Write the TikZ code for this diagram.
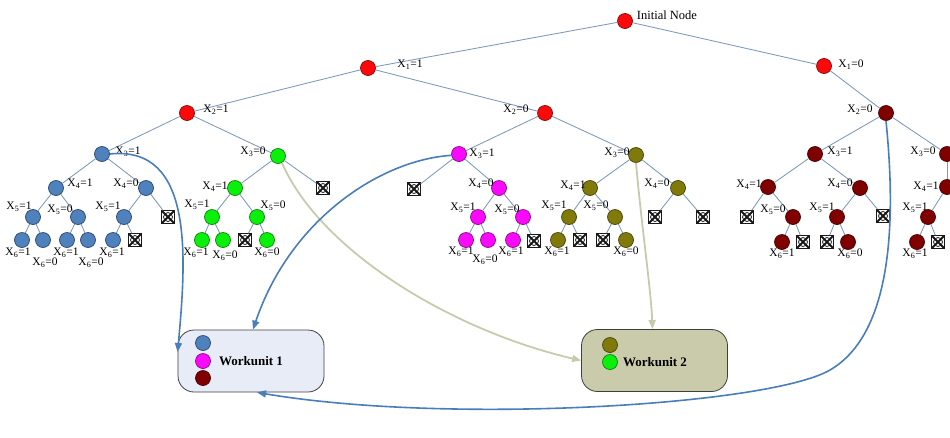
\documentclass[tikz,border=0pt]{standalone}
\usepackage{fontspec}
\setmainfont{Liberation Serif}
\usetikzlibrary{arrows.meta}
\definecolor{cred}{RGB}{250,10,10}
\definecolor{cblue}{RGB}{79,129,189}
\definecolor{cgreen}{RGB}{10,240,10}
\definecolor{cmag}{RGB}{250,10,250}
\definecolor{colive}{RGB}{128,122,10}
\definecolor{cdred}{RGB}{128,0,0}
\definecolor{edgec}{RGB}{125,152,185}
\definecolor{barr}{RGB}{74,126,187}
\definecolor{karr}{RGB}{200,202,172}
\definecolor{wfa}{RGB}{232,236,246}
\definecolor{wfb}{RGB}{201,203,170}
\newcommand\xlab[2]{X\textsubscript{#1}=#2}
\begin{document}
\begin{tikzpicture}[x=1pt,y=-1pt,
  tn/.style={circle,minimum size=15pt,inner sep=0pt,fill=#1,draw=#1!55!black,line width=0.7pt},
  xn/.style={rectangle,minimum size=12.5pt,inner sep=0pt,draw=black!90,line width=1pt,
    path picture={\draw[line width=1.9pt,black!90] (path picture bounding box.south west) -- (path picture bounding box.north east)
      (path picture bounding box.north west) -- (path picture bounding box.south east);
      \draw[line width=0.8pt,black!90] (path picture bounding box.center) circle (4.5pt);}},
  ed/.style={draw=edgec,line width=0.85pt},
  lb/.style={inner sep=0pt,font=\fontsize{11.5}{12}\selectfont},
  wu/.style={draw=black!75,line width=0.8pt,rounded corners=16pt,minimum width=146pt,minimum height=62pt},
  barrow/.style={draw=barr,line width=1.6pt,-{Triangle[length=9pt,width=7pt]}},
  karrow/.style={draw=karr,line width=1.8pt,-{Triangle[length=9pt,width=7pt]}}]
\useasboundingbox (0,0) rectangle (950,437);
% level 0-2
\node[tn=cred] (r) at (625,21) {};
\node[tn=cred] (a) at (368,68) {};
\node[tn=cred] (b) at (824,66) {};
\node[tn=cred] (aa) at (187,113) {};
\node[tn=cred] (ab) at (545,113) {};
\node[tn=cdred] (bb) at (886,113) {};
% level 3
\node[tn=cblue] (c1) at (102,154) {};
\node[tn=cgreen] (c2) at (278,156) {};
\node[tn=cmag] (c3) at (459,154) {};
\node[tn=colive] (c4) at (636,155) {};
\node[tn=cdred] (c5) at (815,154) {};
\node[tn=cdred] (c6) at (947,154) {};
% level 4
\node[tn=cblue] (d1) at (56,188) {};
\node[tn=cblue] (d2) at (146,188) {};
\node[tn=cgreen] (d3) at (235,188) {};
\node[xn] (x1) at (323,188) {};
\node[xn] (x2) at (414,189) {};
\node[tn=cmag] (d4) at (499,188) {};
\node[tn=colive] (d5) at (590,188) {};
\node[tn=colive] (d6) at (678,188) {};
\node[tn=cdred] (d7) at (768,187) {};
\node[tn=cdred] (d8) at (860,188) {};
\node[tn=cdred] (d9) at (947,187) {};
% level 5
\node[tn=cblue] (e1) at (33,217) {};
\node[tn=cblue] (e2) at (78,217) {};
\node[tn=cblue] (e3) at (124,217) {};
\node[xn] (x3) at (168,217) {};
\node[tn=cgreen] (e4) at (212,217) {};
\node[tn=cgreen] (e5) at (257,217) {};
\node[tn=cmag] (e6) at (478,217) {};
\node[tn=cmag] (e7) at (523,217) {};
\node[tn=colive] (e8) at (569,217) {};
\node[tn=colive] (e9) at (615,217) {};
\node[xn] (x4) at (655,217) {};
\node[xn] (x5) at (703,217) {};
\node[xn] (x6) at (747,217) {};
\node[tn=cdred] (e10) at (793,217) {};
\node[tn=cdred] (e11) at (837,217) {};
\node[xn] (x7) at (883,216) {};
\node[tn=cdred] (e12) at (928,217) {};
% level 6
\node[tn=cblue] (f1) at (22,240) {};
\node[tn=cblue] (f2) at (43,240) {};
\node[tn=cblue] (f3) at (67,240) {};
\node[tn=cblue] (f4) at (88,240) {};
\node[tn=cblue] (f5) at (113,240) {};
\node[xn] (x8) at (135,240) {};
\node[tn=cgreen] (f6) at (202,240) {};
\node[tn=cgreen] (f7) at (223,240) {};
\node[xn] (x9) at (245,240) {};
\node[tn=cgreen] (f8) at (267,240) {};
\node[tn=cmag] (f9) at (466,240) {};
\node[tn=cmag] (f10) at (488,240) {};
\node[tn=cmag] (f11) at (513,240) {};
\node[xn] (x10) at (534,241) {};
\node[tn=colive] (f12) at (558,240) {};
\node[xn] (x11) at (580,240) {};
\node[xn] (x12) at (603,240) {};
\node[tn=colive] (f13) at (626,240) {};
\node[tn=cdred] (f14) at (782,242) {};
\node[xn] (x13) at (803,242) {};
\node[xn] (x14) at (827,242) {};
\node[tn=cdred] (f15) at (848,242) {};
\node[tn=cdred] (f16) at (917,242) {};
\node[xn] (x15) at (938,242) {};
% edges
\foreach \p/\q in {r/a,r/b,a/aa,a/ab,b/bb,aa/c1,aa/c2,ab/c3,ab/c4,bb/c5,bb/c6,
  c1/d1,c1/d2,c2/d3,c2/x1,c3/x2,c3/d4,c4/d5,c4/d6,c5/d7,c5/d8,c6/d9,
  d1/e1,d1/e2,d2/e3,d2/x3,d3/e4,d3/e5,d4/e6,d4/e7,d5/e8,d5/e9,d6/x4,d6/x5,d7/x6,d7/e10,d8/e11,d8/x7,d9/e12,
  e1/f1,e1/f2,e2/f3,e2/f4,e3/f5,e3/x8,e4/f6,e4/f7,e5/x9,e5/f8,e6/f9,e6/f10,e7/f11,e7/x10,
  e8/f12,e8/x11,e9/x12,e9/f13,e10/f14,e10/x13,e11/x14,e11/f15,e12/f16,e12/x15}
  \draw[ed] (\p) -- (\q);
% labels
\node[lb,font=\fontsize{12.5}{13}\selectfont] (lr) at (667,15) {Initial Node};
\node[lb] (la) at (410,65) {\xlab{1}{1}};
\node[lb] (lb1) at (851,65) {\xlab{1}{0}};
\node[lb] (laa) at (216,110) {\xlab{2}{1}};
\node[lb] (lab) at (516,110) {\xlab{2}{0}};
\node[lb] (lbb) at (860,110) {\xlab{2}{0}};
\node[lb] (lc1) at (128,152) {\xlab{3}{1}};
\node[lb] (lc2) at (253,152) {\xlab{3}{0}};
\node[lb] (lc3) at (482,154) {\xlab{3}{1}};
\node[lb] (lc4) at (617,153) {\xlab{3}{0}};
\node[lb] (lc5) at (840,152) {\xlab{3}{1}};
\node[lb] (lc6) at (923,152) {\xlab{3}{0}};
\node[lb] (ld1) at (80,184) {\xlab{4}{1}};
\node[lb] (ld2) at (126,184) {\xlab{4}{0}};
\node[lb] (ld3) at (215,187) {\xlab{4}{1}};
\node[lb] (ld4) at (481,184) {\xlab{4}{0}};
\node[lb] (ld5) at (573,186) {\xlab{4}{1}};
\node[lb] (ld6) at (657,184) {\xlab{4}{0}};
\node[lb] (ld7) at (749,185) {\xlab{4}{1}};
\node[lb] (ld8) at (840,184) {\xlab{4}{0}};
\node[lb] (ld9) at (926,187) {\xlab{4}{1}};
\node[lb] (le1) at (19,207) {\xlab{5}{1}};
\node[lb] (le2) at (60,210) {\xlab{5}{0}};
\node[lb] (le3) at (108,207) {\xlab{5}{1}};
\node[lb] (le4) at (197,205) {\xlab{5}{1}};
\node[lb] (le5) at (273,206) {\xlab{5}{0}};
\node[lb] (le6) at (463,208) {\xlab{5}{1}};
\node[lb] (le7) at (507,210) {\xlab{5}{0}};
\node[lb] (le8) at (554,206) {\xlab{5}{1}};
\node[lb] (le9) at (596,206) {\xlab{5}{0}};
\node[lb] (le10) at (773,210) {\xlab{5}{0}};
\node[lb] (le11) at (822,208) {\xlab{5}{1}};
\node[lb] (le12) at (915,208) {\xlab{5}{1}};
\node[lb] (lf1) at (18,253) {\xlab{6}{1}};
\node[lb] (lf2) at (45,263) {\xlab{6}{0}};
\node[lb] (lf3) at (66,253) {\xlab{6}{1}};
\node[lb] (lf4) at (91,263) {\xlab{6}{0}};
\node[lb] (lf5) at (112,253) {\xlab{6}{1}};
\node[lb] (lf6) at (196,253) {\xlab{6}{1}};
\node[lb] (lf7) at (225,256) {\xlab{6}{0}};
\node[lb] (lf8) at (267,253) {\xlab{6}{0}};
\node[lb] (lf9) at (461,252) {\xlab{6}{1}};
\node[lb] (lf10) at (485,260) {\xlab{6}{0}};
\node[lb] (lf11) at (511,252) {\xlab{6}{1}};
\node[lb] (lf12) at (557,252) {\xlab{6}{1}};
\node[lb] (lf13) at (626,252) {\xlab{6}{0}};
\node[lb] (lf14) at (782,254) {\xlab{6}{1}};
\node[lb] (lf15) at (850,254) {\xlab{6}{0}};
\node[lb] (lf16) at (915,254) {\xlab{6}{1}};
% work units
\node[wu,fill=wfa] (w1) at (251,361) {};
\node[tn=cblue] (w1a) at (203,343) {};
\node[tn=cmag] (w1b) at (203,361) {};
\node[tn=cdred] (w1c) at (203,378) {};
\node[inner sep=0pt,font=\fontsize{13}{14}\selectfont\bfseries] (w1t) at (251,361) {Workunit 1};
\node[wu,fill=wfb] (w2) at (654.5,360.5) {};
\node[tn=colive] (w2a) at (610,345) {};
\node[tn=cgreen] (w2b) at (610,362) {};
\node[inner sep=0pt,font=\fontsize{13}{14}\selectfont\bfseries] (w2t) at (655,362) {Workunit 2};
% arrows
\draw[karrow] (c2.-60) .. controls (320,250) and (450,330) .. (w2.west);
\draw[karrow] (c4.south) .. controls (642,230) and (651,290) .. ([xshift=-2pt]w2.north);
\draw[barrow] (c1.east) .. controls (195,145) and (186,260) .. (w1.173);
\draw[barrow] (c3.190) .. controls (380,160) and (290,220) .. ([xshift=2pt]w1.north);
\draw[barrow] (bb.south) .. controls (897,230) and (890,335) .. (830,370)
  .. controls (770,405) and (450,425) .. ([xshift=6pt]w1.south);
\end{tikzpicture}
\end{document}
